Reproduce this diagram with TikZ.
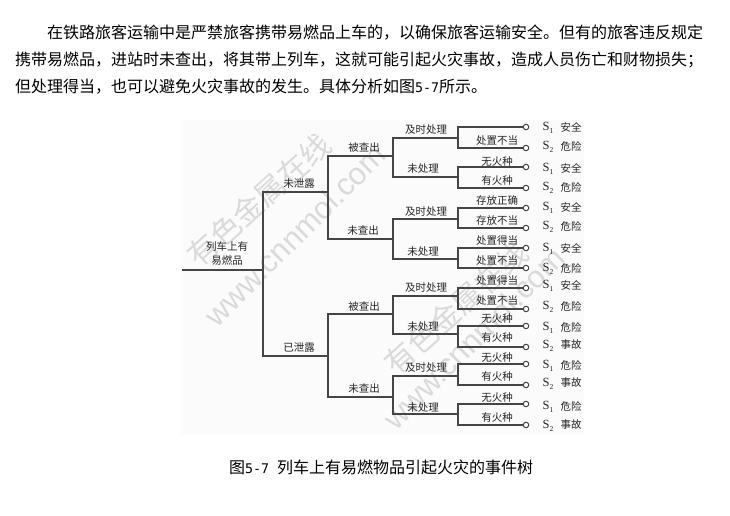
\documentclass[tikz,border=0pt]{standalone}
\usepackage{fontspec}
\setmainfont{Liberation Serif}
\newfontfamily\cjk{Noto Sans CJK SC}
\newfontfamily\latn{DejaVu Sans Mono}
\newfontfamily\wmk{Liberation Sans}
\definecolor{ln}{HTML}{454545}
\definecolor{wm}{HTML}{DADADA}
\newcommand{\sout}[1]{{\fontsize{12.5}{12.5}\selectfont S\raisebox{-2.5pt}{\fontsize{7.5}{7.5}\selectfont #1}}}
\newcommand{\dg}[1]{{\latn\fontsize{13.3}{16}\selectfont #1}}
\tikzset{
  body/.style={anchor=west,inner sep=0pt,font=\cjk\fontsize{16}{18}\selectfont,text=black},
  lab/.style={inner sep=0pt,font=\cjk\fontsize{10.5}{12}\selectfont,text=black!85},
  slab/.style={inner sep=0pt,text=black!85},
  wire/.style={draw=ln,line width=1.1pt},
  term/.style={circle,draw=ln,fill=white,line width=1pt,minimum size=5.5pt,inner sep=0pt},
  wmcn/.style={inner sep=0pt,rotate=42,text=wm,font=\cjk\fontsize{30}{32}\selectfont},
  wmen/.style={inner sep=0pt,rotate=45,text=wm,font=\wmk\fontsize{31}{34}\selectfont}
}
\begin{document}
\begin{tikzpicture}[x=1pt,y=-1pt]
\useasboundingbox (0,0) rectangle (730,516);
\fill[white] (0,0) rectangle (730,516);
\fill[black!1.5] (181,120) rectangle (584,435);
% page text
\node[body] (t1) at (47,33) {在铁路旅客运输中是严禁旅客携带易燃品上车的，以确保旅客运输安全。但有的旅客违反规定};
\node[body] (t2) at (15,60) {携带易燃品，进站时未查出，将其带上列车，这就可能引起火灾事故，造成人员伤亡和财物损失；};
\node[body] (t3) at (15,87) {但处理得当，也可以避免火灾事故的发生。具体分析如图\dg{5-7}所示。};
\node[body] (cap) at (229,467) {图\dg{5-7 }列车上有易燃物品引起火灾的事件树};
% watermark
\node[wmcn] (w1) at (259,200) {有色金属在线};
\node[wmen] (w2) at (295,235) {www.cnnmol.com};
\node[wmcn] (w3) at (456,308) {有色金属在线};
\node[wmen] (w4) at (474,338) {www.cnnmol.com};
% junctions
\coordinate (r0) at (182,270);
\coordinate (r1) at (263,270);
\coordinate (a) at (328,192);
\coordinate (b) at (328,356);
\coordinate (aa) at (393,156);
\coordinate (ab) at (393,239);
\coordinate (ba) at (393,314);
\coordinate (bb) at (393,397);
\coordinate (aaa) at (458,138);
\coordinate (aab) at (458,177);
\coordinate (aba) at (458,219);
\coordinate (abb) at (458,259);
\coordinate (baa) at (458,296);
\coordinate (bab) at (458,334);
\coordinate (bba) at (458,376);
\coordinate (bbb) at (458,414);
% terminals
\foreach \n/\y in {1/127,2/148,3/167,4/188,5/208,6/228,7/248,8/268,9/288,10/309,11/326,12/347,13/364,14/385,15/404,16/425}
  \node[term] (e\n) at (526,\y) {};
% connectors
\draw[wire] (r0) -- (r1);
\draw[wire] (r1) |- (a);
\draw[wire] (r1) |- (b);
\draw[wire] (a) |- (aa -| a) -- (aa);
\draw[wire] (a) |- (ab -| a) -- (ab);
\draw[wire] (b) |- (ba -| b) -- (ba);
\draw[wire] (b) |- (bb -| b) -- (bb);
\draw[wire] (aa) |- (aaa);
\draw[wire] (aa) |- (aab);
\draw[wire] (ab) |- (aba);
\draw[wire] (ab) |- (abb);
\draw[wire] (ba) |- (baa);
\draw[wire] (ba) |- (bab);
\draw[wire] (bb) |- (bba);
\draw[wire] (bb) |- (bbb);
\foreach \p/\i/\j in {aaa/1/2,aab/3/4,aba/5/6,abb/7/8,baa/9/10,bab/11/12,bba/13/14,bbb/15/16}{
  \draw[wire] (\p) |- (e\i);
  \draw[wire] (\p) |- (e\j);
}
% tree labels
\node[lab] (l0a) at (227,247) {列车上有};
\node[lab] (l0b) at (227,261) {易燃品};
\node[lab] (l1) at (299,184) {未泄露};
\node[lab] (l2) at (299,348) {已泄露};
\node[lab] (l3) at (364,148) {被查出};
\node[lab] (l4) at (363,231) {未查出};
\node[lab] (l5) at (364,307) {被查出};
\node[lab] (l6) at (364,389) {未查出};
\foreach \k/\t/\x/\y in {1/及时处理/426/130,2/未处理/423/169,3/及时处理/426/212,4/未处理/423/252,5/及时处理/426/288,6/未处理/423/327,7/及时处理/426/368,8/未处理/423/408}
  \node[lab] (m\k) at (\x,\y) {\t};
\foreach \k/\t/\y in {1/处置不当/141,2/无火种/162,3/有火种/181,4/存放正确/201,5/存放不当/221,6/处置得当/241,7/处置不当/261,8/处置得当/281,9/处置不当/301,10/无火种/319,11/有火种/338,12/无火种/358,13/有火种/377,14/无火种/398,15/有火种/418}
  \node[lab] (q\k) at (497,\y) {\t};
% outcomes
\foreach \k/\s/\t/\y in {1/1/安全/127,2/2/危险/146,3/1/安全/168,4/2/危险/187,5/1/安全/207,6/2/危险/226,7/1/安全/248,8/2/危险/268,9/1/安全/285,10/2/危险/306,11/1/危险/327,12/2/事故/345,13/1/危险/365,14/2/事故/383,15/1/危险/406,16/2/事故/425}{
  \node[slab] (s\k) at (548,\y+1) {\sout{\s}};
  \node[lab] (o\k) at (571,\y) {\t};
}
\end{tikzpicture}
\end{document}
